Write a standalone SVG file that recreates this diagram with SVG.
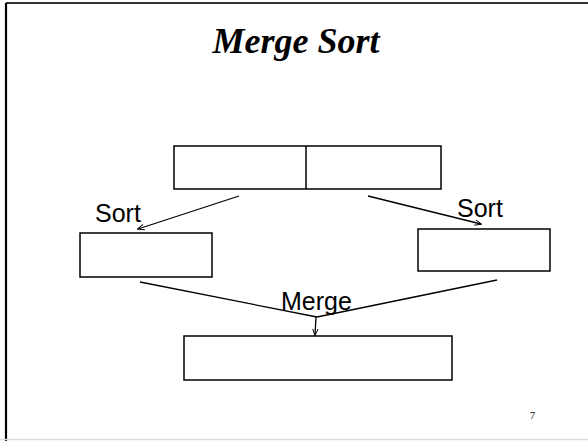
<svg xmlns="http://www.w3.org/2000/svg" width="588" height="441" viewBox="0 0 588 441">
  <style>
    .box { fill: #fff; stroke: #000; stroke-width: 1.5; }
    .conn { stroke: #000; stroke-width: 1.3; fill: none; }
    .lbl { font-family: "Liberation Sans", Arial, sans-serif; font-size: 25px; fill: #000; }
    .title { font-family: "Liberation Serif", "Times New Roman", serif; font-size: 36px; font-weight: bold; font-style: italic; fill: #000; }
  </style>
  <defs>
    <marker id="arrow" viewBox="0 0 10 10" refX="9" refY="5" markerWidth="7" markerHeight="7" orient="auto" markerUnits="userSpaceOnUse">
      <path d="M0,1 L10,5 L0,9" fill="none" stroke="#000" stroke-width="1.3"/>
    </marker>
  </defs>
  <rect width="588" height="441" fill="#fff"/>
  <!-- slide frame -->
  <line x1="6" y1="3" x2="588" y2="3" stroke="#333" stroke-width="2"/>
  <line x1="6" y1="3" x2="6" y2="441" stroke="#000" stroke-width="2.2"/>
  <line x1="0" y1="439.5" x2="588" y2="439.5" stroke="#ddd" stroke-width="1.5"/>

  <text class="title" x="296" y="53" text-anchor="middle">Merge Sort</text>

  <g id="array">
    <rect class="box" x="174" y="146" width="267" height="43"/>
    <line x1="306" y1="146" x2="306" y2="189" stroke="#000" stroke-width="1.5"/>
  </g>
  <g id="left-half">
    <rect class="box" x="80" y="233" width="132" height="44"/>
  </g>
  <g id="right-half">
    <rect class="box" x="418" y="229" width="132" height="42"/>
  </g>
  <g id="merged">
    <rect class="box" x="184" y="336" width="268" height="44"/>
  </g>

  <g id="connectors">
    <line class="conn" x1="239" y1="196" x2="138" y2="229" marker-end="url(#arrow)"/>
    <line class="conn" x1="368" y1="196" x2="481" y2="224" marker-end="url(#arrow)"/>
    <line class="conn" x1="140" y1="282" x2="317" y2="317"/>
    <line class="conn" x1="497" y1="280" x2="317" y2="317"/>
    <line class="conn" x1="316" y1="317" x2="315" y2="335" marker-end="url(#arrow)"/>
  </g>

  <g id="labels">
    <text class="lbl" x="95" y="222">Sort</text>
    <text class="lbl" x="457" y="217">Sort</text>
    <text class="lbl" x="281" y="310">Merge</text>
  </g>

  <text x="530" y="419" font-family="Liberation Serif, Times New Roman, serif" font-size="10" fill="#000">7</text>
</svg>
